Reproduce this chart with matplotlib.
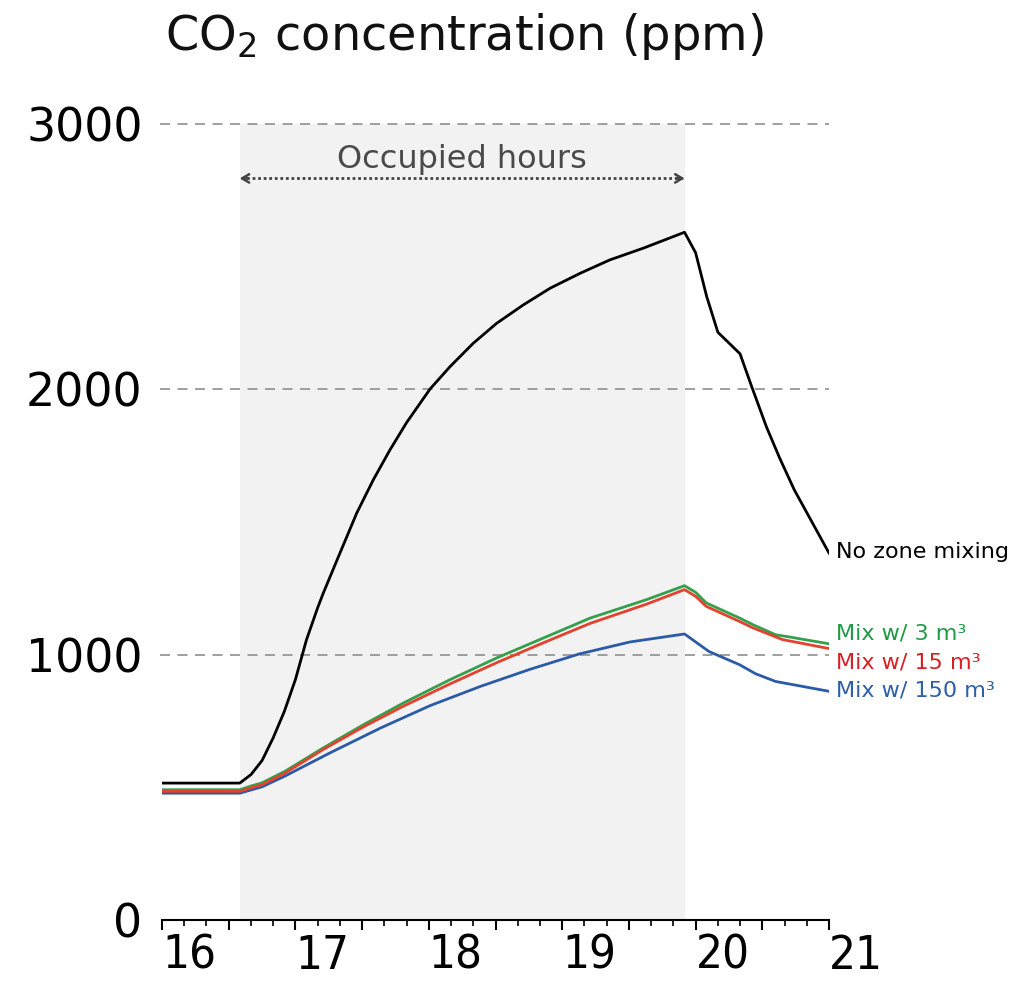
import matplotlib
matplotlib.use("Agg")
import matplotlib.pyplot as plt
from matplotlib import font_manager as fm
from matplotlib.ticker import FixedLocator, MultipleLocator

# ---------------- data ----------------
t_black = [16.0, 16.583, 16.667, 16.75, 16.833, 16.917, 17.0, 17.083, 17.167, 17.209,
           17.334, 17.46, 17.584, 17.709, 17.834, 18.009, 18.16, 18.334, 18.509, 18.708,
           18.909, 19.133, 19.358, 19.608, 19.917, 20.0, 20.083, 20.167, 20.333, 20.42,
           20.53, 20.63, 20.74, 20.87, 21.0]
v_black = [516, 516, 548, 601, 686, 786, 906, 1056, 1177, 1232,
           1383, 1534, 1659, 1772, 1875, 2001, 2086, 2174, 2249, 2318,
           2381, 2437, 2488, 2532, 2592, 2515, 2350, 2215, 2134, 2011,
           1860, 1741, 1621, 1502, 1383]

t_green = [16.0, 16.583, 16.667, 16.75, 16.92, 17.21, 17.51, 17.81, 18.16, 18.51,
           18.86, 19.21, 19.63, 19.917, 20.0, 20.08, 20.33, 20.43, 20.6, 20.7, 21.0]
v_green = [491, 491, 505, 517, 560, 649, 736, 818, 906, 988,
           1063, 1138, 1207, 1260, 1235, 1195, 1138, 1113, 1075, 1067, 1041]

t_red = [16.0, 16.583, 16.667, 16.75, 16.92, 17.21, 17.51, 17.81, 18.16, 18.51,
         18.86, 19.21, 19.63, 19.917, 20.0, 20.08, 20.33, 20.43, 20.65, 21.0]
v_red = [485, 485, 498, 510, 553, 643, 728, 806, 890, 970,
         1045, 1118, 1190, 1245, 1220, 1182, 1125, 1101, 1057, 1023]

t_blue = [16.0, 16.583, 16.75, 16.92, 17.26, 17.64, 18.01, 18.39, 18.76, 19.13,
          19.51, 19.917, 20.1, 20.33, 20.45, 20.6, 20.73, 21.0]
v_blue = [478, 478, 502, 542, 630, 724, 808, 881, 945, 1003,
          1048, 1078, 1012, 962, 928, 899, 887, 862]

series_labels = ["No zone mixing", "Mix w/ 3 m³", "Mix w/ 15 m³", "Mix w/ 150 m³"]
label_y = [1388, 1079, 970, 864]

occupied = (16.583, 19.917)
x_ticks_major = [16, 16.5, 17, 17.5, 18, 18.5, 19, 19.5, 20, 20.5, 21]
x_tick_labels = ["16", "", "17", "", "18", "", "19", "", "20", "", "21"]
y_ticks = [0, 1000, 2000, 3000]

# ---------------- fonts ----------------
TXT = ["DejaVu Sans"]
plt.rcParams["mathtext.fontset"] = "dejavusans"


def find_condensed():
    best = None
    for f in fm.fontManager.ttflist:
        fn = f.fname.lower()
        name = f.name.lower()
        if ("condensed" in fn or "narrow" in fn or "condensed" in name
                or "narrow" in name or str(f.stretch) in ("condensed", "semi-condensed")):
            if "semi" in fn or "extra" in fn or "ultra" in fn:
                continue
            if "italic" in fn or "oblique" in fn:
                continue
            if f.weight in (400, "normal", "regular") or "regular" in fn:
                score = 0
                if "liberation" in fn:
                    score = 3
                elif "dejavusans" in fn and "mono" not in fn:
                    score = 2
                elif "noto" in fn:
                    score = 1
                if best is None or score > best[0]:
                    best = (score, f.fname)
    return best[1] if best else None


cond_path = find_condensed()
if cond_path:
    xfont = fm.FontProperties(fname=cond_path, size=34)
else:
    xfont = fm.FontProperties(family=["DejaVu Sans"], stretch="condensed", size=32)

C_BLACK = "#000000"
C_GREEN = "#34a04c"
C_RED = "#e4412e"
C_BLUE = "#2b5ba6"
T_GREEN = "#1f9a45"
T_RED = "#d91f26"
T_BLUE = "#2e5ea8"

fig = plt.figure(figsize=(10.23, 10.01), dpi=100)
ax = fig.add_axes([162 / 1023, 81 / 1001, 667 / 1023, 796 / 1001])
ax.set_xlim(16, 21)
ax.set_ylim(0, 3000)

ax.axvspan(occupied[0], occupied[1], ymin=0, ymax=1, color="#f2f2f2", lw=0, zorder=0)

for yv in [1000, 2000, 3000]:
    ax.plot([15.985, 21], [yv, yv], color="#8f8f8f", lw=1.2, ls=(0, (6, 4.5)),
            zorder=1, clip_on=False)

lw = 2.0
ax.plot(t_green, v_green, color=C_GREEN, lw=lw, zorder=3)
ax.plot(t_red, v_red, color=C_RED, lw=lw, zorder=4)
ax.plot(t_blue, v_blue, color=C_BLUE, lw=lw, zorder=3)
ax.plot(t_black, v_black, color=C_BLACK, lw=lw, zorder=5)

# right labels
colors_txt = [C_BLACK, T_GREEN, T_RED, T_BLUE]
sizes = [16, 16, 16, 16]
for lab, yv, c, s in zip(series_labels, label_y, colors_txt, sizes):
    ax.text(21.05, yv, lab, color=c, fontsize=s, family=TXT, va="center",
            ha="left", clip_on=False)

# occupied hours annotation
arrow_y = 2795
ax.plot([occupied[0] + 0.01, occupied[1] - 0.01], [arrow_y, arrow_y],
        color="#444444", lw=2.0, ls=(0, (1, 1)), zorder=6)
for x0, x1 in [(occupied[0] + 0.06, occupied[0]), (occupied[1] - 0.06, occupied[1])]:
    ax.annotate("", xy=(x1, arrow_y), xytext=(x0, arrow_y),
                arrowprops=dict(arrowstyle="->,head_length=0.5,head_width=0.3",
                                color="#444444", lw=1.8, shrinkA=0, shrinkB=0),
                zorder=6)
ax.text(sum(occupied) / 2, 2865, "Occupied hours", color="#4a4a4a", fontsize=23,
        family=TXT, ha="center", va="center")

# axes styling
for s in ["top", "right", "left"]:
    ax.spines[s].set_visible(False)
ax.spines["bottom"].set_linewidth(1.5)
ax.spines["bottom"].set_zorder(7)

ax.xaxis.set_major_locator(FixedLocator(x_ticks_major))
ax.set_xticklabels(x_tick_labels)
ax.xaxis.set_minor_locator(MultipleLocator(1 / 6))
ax.tick_params(axis="x", which="major", direction="out", length=7, width=1.5, pad=3)
ax.tick_params(axis="x", which="minor", direction="out", length=4, width=1.2)
for lab in ax.get_xticklabels():
    lab.set_fontproperties(xfont)
    lab.set_horizontalalignment("left")

ax.set_yticks(y_ticks)
ax.set_yticklabels([str(v) for v in y_ticks])
ax.tick_params(axis="y", which="both", length=0, pad=14, labelsize=33)
for lab in ax.get_yticklabels():
    lab.set_family(TXT)

fig.text(165 / 1023, 1 - 36 / 1001, "CO$_2$ concentration (ppm)", fontsize=34.5,
         family=TXT, ha="left", va="center", color="#111111")

fig.savefig("out.png", dpi=100)
